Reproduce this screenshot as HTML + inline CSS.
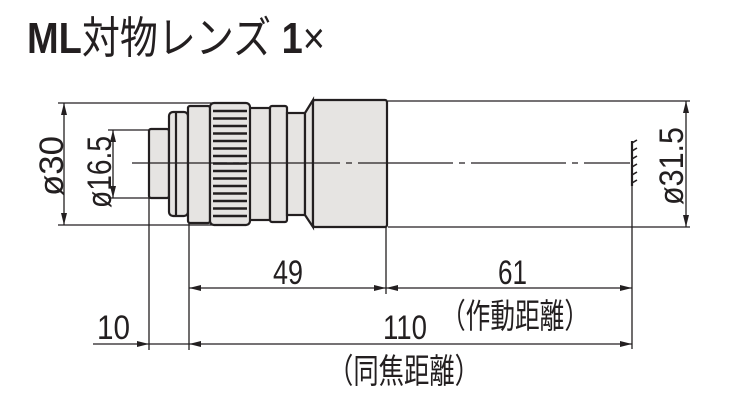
<!DOCTYPE html>
<html><head><meta charset="utf-8"><style>
html,body{margin:0;padding:0;background:#fff;}
svg{display:block;}
text{font-family:"Liberation Sans","Noto Sans CJK JP",sans-serif;fill:#231f20;}
</style></head><body>
<svg width="748" height="419" viewBox="0 0 748 419" xmlns="http://www.w3.org/2000/svg">
<defs>
<marker id="a" viewBox="0 0 12 6" refX="12" refY="3" markerWidth="12" markerHeight="6" markerUnits="userSpaceOnUse" orient="auto-start-reverse"><path d="M0,0L12,3L0,6z" fill="#231f20"/></marker>
</defs>
<text x="27" y="53" font-size="44" textLength="298" lengthAdjust="spacingAndGlyphs"><tspan font-weight="bold">ML</tspan><tspan>対物レンズ </tspan><tspan font-weight="bold">1</tspan><tspan>×</tspan></text>

<g stroke="#231f20" stroke-width="1.3" fill="none">
<line x1="58" y1="103" x2="215" y2="103"/>
<line x1="58" y1="225" x2="215" y2="225"/>
<line x1="108" y1="130" x2="150" y2="130"/>
<line x1="108" y1="198" x2="150" y2="198"/>
<line x1="388" y1="101" x2="690" y2="101"/>
<line x1="388" y1="227" x2="690" y2="227"/>
<line x1="149" y1="198" x2="149" y2="350"/>
<line x1="189" y1="222" x2="189" y2="350"/>
<line x1="386" y1="227" x2="386" y2="294"/>
<line x1="632" y1="186" x2="632" y2="349"/>
<line x1="64" y1="103" x2="64" y2="225" marker-start="url(#a)" marker-end="url(#a)"/>
<line x1="113" y1="130" x2="113" y2="198" marker-start="url(#a)" marker-end="url(#a)"/>
<line x1="686" y1="101" x2="686" y2="227" marker-start="url(#a)" marker-end="url(#a)"/>
<line x1="189" y1="288" x2="386" y2="288" marker-start="url(#a)" marker-end="url(#a)"/>
<line x1="386" y1="288" x2="632" y2="288" marker-start="url(#a)" marker-end="url(#a)"/>
<line x1="93" y1="344" x2="149" y2="344" marker-end="url(#a)"/>
<line x1="149" y1="344" x2="189" y2="344"/>
<line x1="189" y1="344" x2="632" y2="344" marker-start="url(#a)" marker-end="url(#a)"/>
</g>

<g stroke="#231f20" stroke-width="2.2" fill="#e6e4e2">
<rect x="149" y="129" width="20" height="69" rx="2"/>
<rect x="169" y="112" width="19" height="104" rx="4"/>
<line x1="176" y1="113" x2="176" y2="215"/>
<rect x="188" y="106" width="22" height="117" rx="2"/>
<rect x="249" y="108" width="21" height="112"/>
<rect x="270" y="106" width="17" height="116" rx="2"/>
<rect x="287" y="113" width="18" height="102"/>
<path d="M305,113L313,100L313,227L305,215z"/>
<rect x="313" y="100" width="74" height="127" rx="2"/>
<rect x="210" y="103" width="40" height="122" rx="4"/>
</g>
<g stroke="#231f20" stroke-width="2.4">
<line x1="213" y1="111" x2="247" y2="111"/><line x1="213" y1="118.5" x2="247" y2="118.5"/>
<line x1="213" y1="126" x2="247" y2="126"/><line x1="213" y1="133.5" x2="247" y2="133.5"/>
<line x1="213" y1="141" x2="247" y2="141"/><line x1="213" y1="148.5" x2="247" y2="148.5"/>
<line x1="213" y1="156" x2="247" y2="156"/><line x1="213" y1="163.5" x2="247" y2="163.5"/>
<line x1="213" y1="171" x2="247" y2="171"/><line x1="213" y1="178.5" x2="247" y2="178.5"/>
<line x1="213" y1="186" x2="247" y2="186"/><line x1="213" y1="193.5" x2="247" y2="193.5"/>
<line x1="213" y1="201" x2="247" y2="201"/><line x1="213" y1="208.5" x2="247" y2="208.5"/>
<line x1="213" y1="216" x2="247" y2="216"/>
</g>
<line x1="132" y1="163" x2="630" y2="163" stroke="#231f20" stroke-width="1.2" stroke-dasharray="95,6,6,6"/>
<g stroke="#231f20" stroke-width="1.6">
<line x1="632" y1="141" x2="632" y2="186" stroke-width="2.2"/>
<line x1="632" y1="143" x2="637" y2="140"/><line x1="632" y1="151" x2="637" y2="148"/>
<line x1="632" y1="159" x2="637" y2="156"/><line x1="632" y1="167" x2="637" y2="164"/>
<line x1="632" y1="175" x2="637" y2="172"/><line x1="632" y1="183" x2="637" y2="180"/>
</g>

<g font-size="34">
<text transform="translate(52,166) rotate(-90)" text-anchor="middle" dominant-baseline="central" textLength="60" lengthAdjust="spacingAndGlyphs">ø30</text>
<text transform="translate(100,172) rotate(-90)" text-anchor="middle" dominant-baseline="central" textLength="72" lengthAdjust="spacingAndGlyphs">ø16.5</text>
<text transform="translate(672,166) rotate(-90)" text-anchor="middle" dominant-baseline="central" textLength="78" lengthAdjust="spacingAndGlyphs">ø31.5</text>
<text x="273" y="284" textLength="30" lengthAdjust="spacingAndGlyphs">49</text>
<text x="498" y="284" textLength="29" lengthAdjust="spacingAndGlyphs">61</text>
<text x="97" y="339" textLength="33" lengthAdjust="spacingAndGlyphs">10</text>
<text x="383" y="339" textLength="44" lengthAdjust="spacingAndGlyphs">110</text>
<text x="441" y="328" font-size="34" textLength="148" lengthAdjust="spacingAndGlyphs">（作動距離）</text>
<text x="328" y="383" font-size="34" textLength="152" lengthAdjust="spacingAndGlyphs">（同焦距離）</text>
</g>
</svg>
</body></html>
